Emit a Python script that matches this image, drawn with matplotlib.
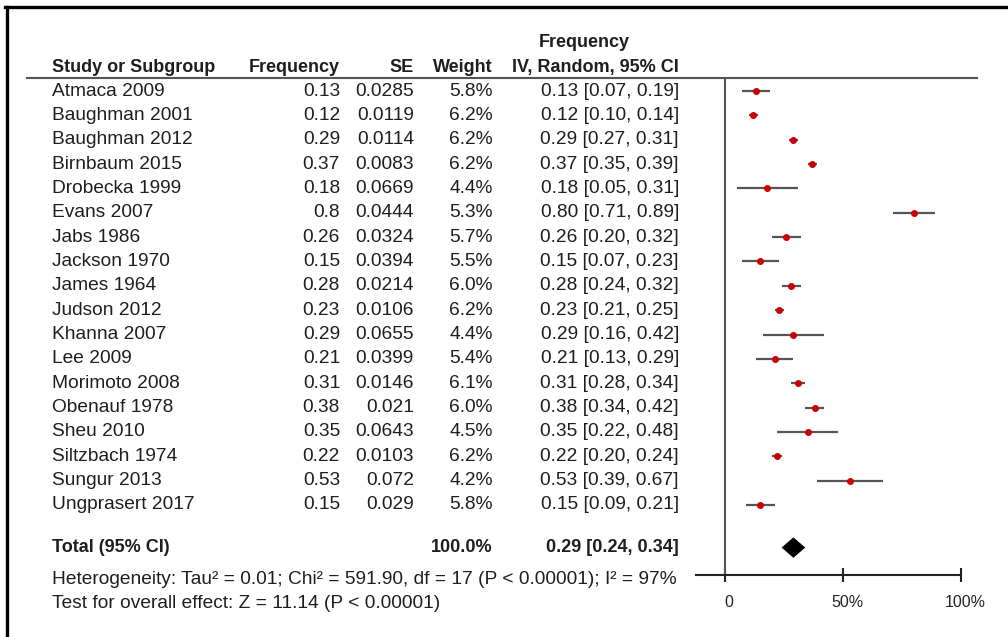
import matplotlib
matplotlib.use("Agg")
import matplotlib.pyplot as plt
from matplotlib import transforms
from matplotlib.lines import Line2D

plt.rcParams["font.family"] = ["Liberation Sans", "DejaVu Sans"]

studies = ["Atmaca 2009", "Baughman 2001", "Baughman 2012", "Birnbaum 2015",
           "Drobecka 1999", "Evans 2007", "Jabs 1986", "Jackson 1970",
           "James 1964", "Judson 2012", "Khanna 2007", "Lee 2009",
           "Morimoto 2008", "Obenauf 1978", "Sheu 2010", "Siltzbach 1974",
           "Sungur 2013", "Ungprasert 2017"]
freq = [0.13, 0.12, 0.29, 0.37, 0.18, 0.8, 0.26, 0.15, 0.28, 0.23, 0.29,
        0.21, 0.31, 0.38, 0.35, 0.22, 0.53, 0.15]
se = [0.0285, 0.0119, 0.0114, 0.0083, 0.0669, 0.0444, 0.0324, 0.0394,
      0.0214, 0.0106, 0.0655, 0.0399, 0.0146, 0.021, 0.0643, 0.0103,
      0.072, 0.029]
weight = [5.8, 6.2, 6.2, 6.2, 4.4, 5.3, 5.7, 5.5, 6.0, 6.2, 4.4, 5.4,
          6.1, 6.0, 4.5, 6.2, 4.2, 5.8]
ci_low = [0.07, 0.10, 0.27, 0.35, 0.05, 0.71, 0.20, 0.07, 0.24, 0.21,
          0.16, 0.13, 0.28, 0.34, 0.22, 0.20, 0.39, 0.09]
ci_high = [0.19, 0.14, 0.31, 0.39, 0.31, 0.89, 0.32, 0.23, 0.32, 0.25,
           0.42, 0.29, 0.34, 0.42, 0.48, 0.24, 0.67, 0.21]

total_est, total_lo, total_hi = 0.29, 0.24, 0.34
total_weight = 100.0
heterogeneity = "Heterogeneity: Tau\u00b2 = 0.01; Chi\u00b2 = 591.90, df = 17 (P < 0.00001); I\u00b2 = 97%"
overall = "Test for overall effect: Z = 11.14 (P < 0.00001)"
xticks = [0, 0.5, 1.0]
xticklabels = ["0", "50%", "100%"]

W, H = 1008, 637
fig = plt.figure(figsize=(W / 100, H / 100), dpi=100)

# forest panel: 0 -> x=725px, 1 -> x=961px ; rows 24.35px apart starting y=91px
ax_l, ax_r, ax_t, ax_b = 696, 977, 78, 575
ax = fig.add_axes([ax_l / W, 1 - ax_b / H, (ax_r - ax_l) / W, (ax_b - ax_t) / H])
ax.set_xlim((ax_l - 725) / 236, (ax_r - 725) / 236)
row_h = 24.35
ax.set_ylim((ax_b - 91) / row_h, (ax_t - 91) / row_h)
ax.patch.set_alpha(0)
for s in ["top", "right", "left"]:
    ax.spines[s].set_visible(False)
ax.spines["bottom"].set_bounds((ax_l - 725) / 236, 1.0)
ax.spines["bottom"].set_linewidth(1.5)
ax.spines["bottom"].set_color("#222222")
ax.set_yticks([])
ax.set_xticks(xticks)
ax.set_xticklabels(xticklabels)
ax.tick_params(axis="x", direction="inout", length=9.5, width=1.5,
               color="#222222", pad=10, labelsize=11.5, labelcolor="#222222")
for lab in ax.get_xticklabels():
    lab.set_transform(lab.get_transform() + transforms.ScaledTranslation(4 / 100, 0, fig.dpi_scale_trans))

ax.axvline(0, color="#555555", lw=1.5)

rows = list(range(len(studies)))
ax.hlines(rows, ci_low, ci_high, color="#555555", lw=1.6)
ax.plot(freq, rows, "o", color="#cc0000", ms=4.0, mec="#cc0000", zorder=3)

total_row = 18.75
dh = 0.42
ax.fill([total_lo, total_est, total_hi, total_est],
        [total_row, total_row - dh, total_row, total_row + dh],
        color="black", lw=0)

# table text, x in figure pixels, y in forest rows
tr = transforms.blended_transform_factory(
    transforms.Affine2D().scale(1 / W, 1) + fig.transFigure, ax.transData)
fs = 13.8
fb = 13.0
tc = "#1e1e1e"
for i, name in enumerate(studies):
    ax.text(52, i, name, transform=tr, ha="left", va="center", fontsize=fs, color=tc)
    ax.text(340, i, str(freq[i]), transform=tr, ha="right", va="center", fontsize=fs, color=tc)
    ax.text(414, i, str(se[i]), transform=tr, ha="right", va="center", fontsize=fs, color=tc)
    ax.text(493, i, "%.1f%%" % weight[i], transform=tr, ha="right", va="center", fontsize=fs, color=tc)
    ax.text(679, i, "%.2f [%.2f, %.2f]" % (freq[i], ci_low[i], ci_high[i]),
            transform=tr, ha="right", va="center", fontsize=fs, color=tc)

hy1 = (42 - 91) / row_h
hy2 = (67 - 91) / row_h
ax.text(584, hy1, "Frequency", transform=tr, ha="center", va="center", fontsize=fb, color=tc, weight="bold")
ax.text(52, hy2, "Study or Subgroup", transform=tr, ha="left", va="center", fontsize=fb, color=tc, weight="bold")
ax.text(340, hy2, "Frequency", transform=tr, ha="right", va="center", fontsize=fb, color=tc, weight="bold")
ax.text(414, hy2, "SE", transform=tr, ha="right", va="center", fontsize=fb, color=tc, weight="bold")
ax.text(493, hy2, "Weight", transform=tr, ha="right", va="center", fontsize=fb, color=tc, weight="bold")
ax.text(679, hy2, "IV, Random, 95% CI", transform=tr, ha="right", va="center", fontsize=fb, color=tc, weight="bold")

ax.text(52, total_row, "Total (95% CI)", transform=tr, ha="left", va="center", fontsize=fb, color=tc, weight="bold")
ax.text(493, total_row, "%.1f%%" % total_weight, transform=tr, ha="right", va="center", fontsize=fb, color=tc, weight="bold")
ax.text(679, total_row, "%.2f [%.2f, %.2f]" % (total_est, total_lo, total_hi),
        transform=tr, ha="right", va="center", fontsize=fb, color=tc, weight="bold")
ax.text(52, (580 - 91) / row_h, heterogeneity, transform=tr, ha="left", va="center", fontsize=fs, color=tc)
ax.text(52, (603 - 91) / row_h, overall, transform=tr, ha="left", va="center", fontsize=fs, color=tc)

# header rule across the table
ax.plot([27, 977], [(78 - 91) / row_h] * 2, transform=tr, color="#555555", lw=1.5, clip_on=False)

# frame of the screenshot (top and left edges)
fig.add_artist(Line2D([5 / W, 1], [1 - 7 / H, 1 - 7 / H], transform=fig.transFigure, color="black", lw=2.4))
fig.add_artist(Line2D([7 / W, 7 / W], [0, 1 - 7 / H], transform=fig.transFigure, color="black", lw=2.4))

fig.savefig("out.png", dpi=100)
